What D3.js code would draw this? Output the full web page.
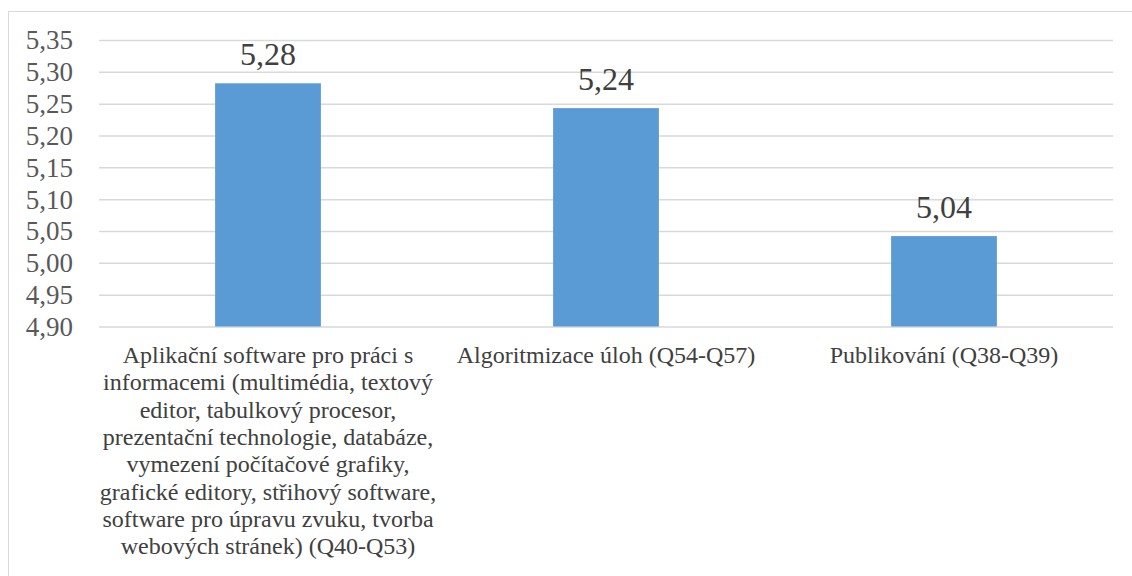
<!DOCTYPE html>
<html>
<head>
<meta charset="utf-8">
<script src="https://cdn.jsdelivr.net/npm/d3@7"></script>
<style>
  body { margin: 0; background: #fff; }
</style>
</head>
<body>
<div id="chart"></div>
<script>
// category labels, already broken into lines like in the original
const categories = [
  ['Aplikační software pro práci s',
   'informacemi (multimédia, textový',
   'editor, tabulkový procesor,',
   'prezentační technologie, databáze,',
   'vymezení počítačové grafiky,',
   'grafické editory, střihový software,',
   'software pro úpravu zvuku, tvorba',
   'webových stránek) (Q40-Q53)'],
  ['Algoritmizace úloh (Q54-Q57)'],
  ['Publikování (Q38-Q39)']
];
const values = [5.282, 5.243, 5.042];
const yTicks = [4.90, 4.95, 5.00, 5.05, 5.10, 5.15, 5.20, 5.25, 5.30, 5.35];

const font = "'Liberation Serif', 'Times New Roman', serif";
const width = 1132, height = 576;
const margin = { top: 40, right: 19, bottom: 249.5, left: 99 };

const svg = d3.select('#chart')
  .append('svg')
    .attr('width', width)
    .attr('height', height);

// chart border (runs off right and bottom edge)
svg.append('rect')
  .attr('x', 8.5).attr('y', 11.5)
  .attr('width', width).attr('height', height)
  .attr('fill', 'none')
  .attr('stroke', '#d9d9d9')
  .attr('stroke-width', 1);

const x = d3.scaleBand()
  .domain(d3.range(categories.length))
  .range([margin.left, width - margin.right])
  .paddingInner(0.687)
  .paddingOuter(0.3435);

const y = d3.scaleLinear()
  .domain([4.90, 5.35])
  .range([height - margin.bottom, margin.top]);

const fmt = v => d3.format('.2f')(v).replace('.', ',');

// gridlines + tick labels
const yAxis = d3.axisLeft(y)
  .tickValues(yTicks)
  .tickSize(-(width - margin.left - margin.right))
  .tickPadding(26)
  .tickFormat(fmt);

const gy = svg.append('g')
  .attr('transform', `translate(${margin.left},0)`)
  .call(yAxis);
gy.select('.domain').remove();
gy.selectAll('.tick line')
  .attr('stroke', '#d9d9d9')
  .attr('stroke-width', 1.5);
gy.selectAll('.tick text')
  .attr('fill', '#595959')
  .attr('dy', '0.33em')
  .style('font-family', font)
  .style('font-size', '27px');

// bars
svg.selectAll('rect.bar')
  .data(values)
  .enter()
  .append('rect')
    .attr('class', 'bar')
    .attr('x', (d, i) => x(i))
    .attr('y', d => y(d))
    .attr('width', x.bandwidth())
    .attr('height', d => y(4.90) - y(d))
    .attr('fill', '#5b9bd5');

// value labels
svg.selectAll('text.val')
  .data(values)
  .enter()
  .append('text')
    .attr('class', 'val')
    .attr('x', (d, i) => x(i) + x.bandwidth() / 2)
    .attr('y', d => y(d) - 18)
    .attr('text-anchor', 'middle')
    .attr('fill', '#404040')
    .style('font-family', font)
    .style('font-size', '32px')
    .text(d => fmt(d));

// category labels
svg.selectAll('text.cat')
  .data(categories)
  .enter()
  .append('text')
    .attr('class', 'cat')
    .attr('text-anchor', 'middle')
    .attr('fill', '#404040')
    .style('font-family', font)
    .style('font-size', '24px')
    .each(function (lines, i) {
      const cx = x(i) + x.bandwidth() / 2;
      d3.select(this).selectAll('tspan')
        .data(lines)
        .enter()
        .append('tspan')
          .attr('x', cx)
          .attr('y', (d, j) => 363 + j * 27.3)
          .text(d => d);
    });
</script>
</body>
</html>
